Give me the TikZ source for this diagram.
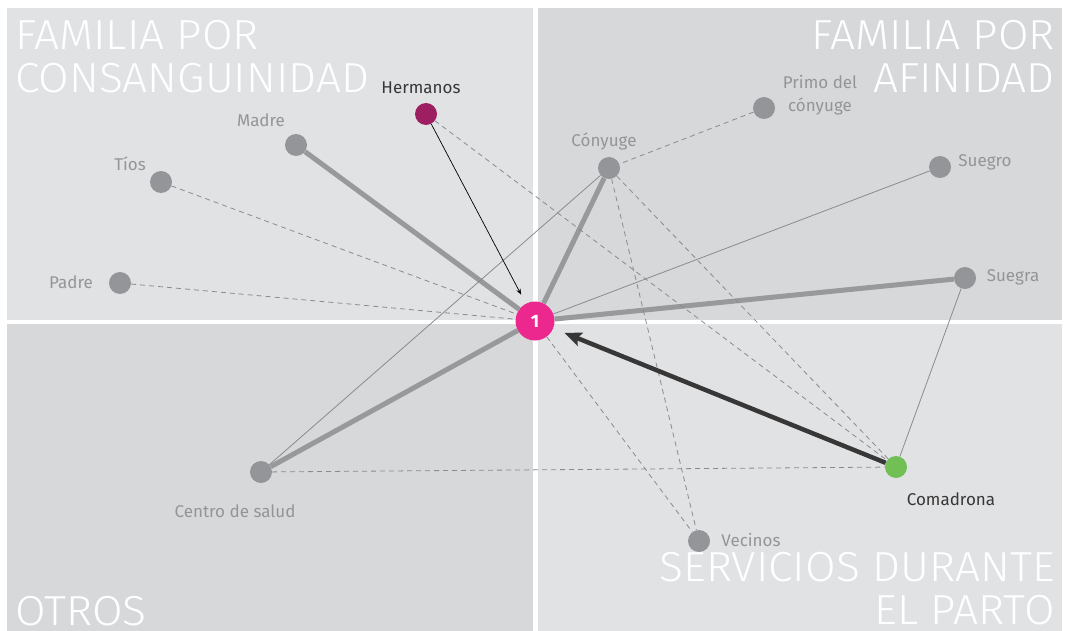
\documentclass[tikz,border=0pt]{standalone}
\usepackage{fontspec}
\setmainfont{Fira Sans}
\newfontfamily\titlefont{Fira Sans Light}[FakeStretch=1.055]
\usetikzlibrary{arrows.meta}

\definecolor{panellight}{RGB}{225,226,228}
\definecolor{paneldark}{RGB}{215,216,218}
\definecolor{nodegray}{RGB}{147,149,152}
\definecolor{linegray}{RGB}{152,153,155}
\definecolor{dashgray}{RGB}{138,139,143}
\definecolor{egopink}{RGB}{236,40,143}
\definecolor{hermanoscol}{RGB}{158,30,98}
\definecolor{comadronacol}{RGB}{114,191,86}
\definecolor{textdark}{RGB}{55,55,55}

\tikzset{
  person/.style={circle, fill=nodegray, minimum size=22pt, inner sep=0pt},
  lbl/.style={text=nodegray, font=\fontsize{17}{23}\selectfont, inner sep=0pt},
  quadtitle/.style={text=white, font=\titlefont\fontsize{42}{43}\selectfont, inner sep=0pt},
  strongtie/.style={line width=5pt, linegray},
  plaintie/.style={line width=0.8pt, dashgray},
  weaktie/.style={line width=0.8pt, dashgray, dash pattern=on 5pt off 4pt}
}

\begin{document}
\begin{tikzpicture}[x=1pt, y=-1pt]
  \useasboundingbox (0,0) rectangle (1065,631);
  \fill[white] (0,0) rectangle (1065,631);

  % quadrants
  \fill[panellight] (7,8) rectangle (533,320);
  \fill[paneldark] (538,8) rectangle (1062,320);
  \fill[paneldark] (7,324) rectangle (533,631);
  \fill[panellight] (538,324) rectangle (1062,631);

  \node[quadtitle, anchor=north west, align=left] (t-consang) at (15,20) {FAMILIA POR\\CONSANGUINIDAD};
  \node[quadtitle, anchor=north east, align=right] (t-afinidad) at (1055,20) {FAMILIA POR\\AFINIDAD};
  \node[quadtitle, anchor=base west] (t-otros) at (15,625) {OTROS};
  \node[quadtitle, anchor=south east, align=right] (t-servicios) at (1055,625) {SERVICIOS DURANTE\\EL PARTO};

  % people
  \node[circle, fill=egopink, minimum size=39pt, inner sep=0pt, text=white,
        font=\bfseries\fontsize{18}{18}\selectfont] (ego) at (535,321) {1};
  \node[person, fill=hermanoscol] (hermanos) at (426,114) {};
  \node[person] (madre) at (296,145) {};
  \node[person] (tios) at (161,182) {};
  \node[person] (padre) at (120,283) {};
  \node[person] (conyuge) at (609,168) {};
  \node[person] (primo) at (764,108) {};
  \node[person] (suegro) at (940,167) {};
  \node[person] (suegra) at (965,278) {};
  \node[person] (centro) at (261,472) {};
  \node[person, fill=comadronacol] (comadrona) at (896,467) {};
  \node[person] (vecinos) at (699,541) {};

  \node[lbl, text=textdark] (hermanos-l) at (421,88) {Hermanos};
  \node[lbl] (madre-l) at (261,120) {Madre};
  \node[lbl] (tios-l) at (130,164) {Tíos};
  \node[lbl] (padre-l) at (71,282) {Padre};
  \node[lbl] (conyuge-l) at (604,142) {Cónyuge};
  \node[lbl, align=center] (primo-l) at (820,95) {Primo del\\cónyuge};
  \node[lbl] (suegro-l) at (985,162) {Suegro};
  \node[lbl] (suegra-l) at (1013,277) {Suegra};
  \node[lbl] (centro-l) at (235,511) {Centro de salud};
  \node[lbl, text=textdark] (comadrona-l) at (951,499) {Comadrona};
  \node[lbl] (vecinos-l) at (751,540) {Vecinos};

  % ties
  \draw[strongtie] (madre) -- (ego);
  \draw[strongtie] (conyuge) -- (ego);
  \draw[strongtie] (suegra) -- (ego);
  \draw[strongtie] (centro) -- (ego);

  \draw[plaintie] (suegro) -- (ego);
  \draw[plaintie] (conyuge) -- (centro);
  \draw[plaintie] (suegra) -- (comadrona);

  \draw[weaktie] (tios) -- (ego);
  \draw[weaktie] (padre) -- (ego);
  \draw[weaktie] (hermanos) -- (comadrona);
  \draw[weaktie] (primo) -- (conyuge);
  \draw[weaktie] (conyuge) -- (vecinos);
  \draw[weaktie] (conyuge) -- (comadrona);
  \draw[weaktie] (ego) -- (vecinos);
  \draw[weaktie] (centro) -- (comadrona);

  \draw[-{Stealth[length=6pt, width=4.5pt]}, line width=0.7pt, black, shorten >=10pt] (hermanos) -- (ego);
  \draw[-{Stealth[length=17pt, width=14pt, inset=3pt]}, line width=4.5pt, textdark, shorten >=12pt] (comadrona) -- (ego);
\end{tikzpicture}
\end{document}
